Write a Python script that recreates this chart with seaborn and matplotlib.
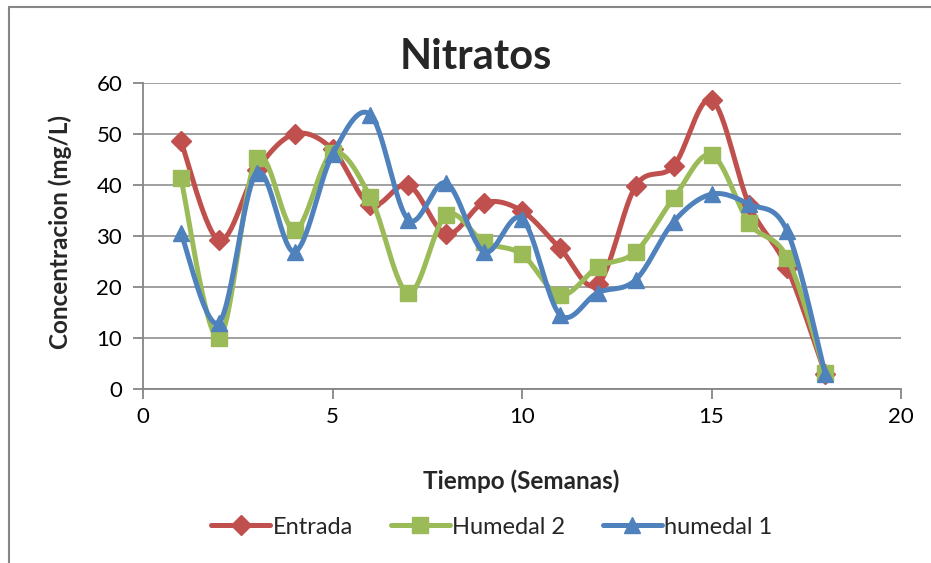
import numpy as np
import pandas as pd
import matplotlib
matplotlib.use("Agg")
import matplotlib.pyplot as plt
from matplotlib.lines import Line2D
import seaborn as sns

# ---- data ----
semanas = list(range(1, 19))
entrada = [48.6, 29.2, 42.9, 50.0, 47.0, 36.1, 40.0, 30.4, 36.5, 34.9,
           27.6, 20.5, 39.8, 43.7, 56.7, 36.0, 23.7, 3.0]
humedal2 = [41.3, 10.0, 45.2, 31.2, 46.3, 37.6, 18.8, 34.1, 28.8, 26.4,
            18.4, 23.9, 26.9, 37.4, 45.9, 32.5, 25.7, 3.1]
humedal1 = [30.6, 13.0, 42.4, 26.9, 46.0, 53.8, 33.2, 40.4, 26.9, 33.4,
            14.6, 18.9, 21.4, 32.8, 38.2, 36.2, 30.9, 3.0]
series_names = ["Entrada", "Humedal 2", "humedal 1"]
colors = ["#C0504D", "#9BBB59", "#4F81BD"]
markers = ["D", "s", "^"]
marker_sizes = [10, 11, 12]

sns.set_theme(style="white")
plt.rcParams["font.family"] = ["Lato", "DejaVu Sans"]

W, H = 931, 563
fig = plt.figure(figsize=(W / 100, H / 100), dpi=100)
ax = fig.add_axes([143 / W, 1 - 389 / H, (901 - 143) / W, (389 - 83) / H])


def smooth(xs, ys, n=30):
    """Excel-style smoothed line (cubic Bezier, Catmull-Rom control points)."""
    P = np.column_stack([xs, ys]).astype(float)
    out = []
    m = len(P)
    for i in range(m - 1):
        p0 = P[i - 1] if i > 0 else P[i]
        p1 = P[i]
        p2 = P[i + 1]
        p3 = P[i + 2] if i + 2 < m else P[i + 1]
        c1 = p1 + (p2 - p0) / 6
        c2 = p2 - (p3 - p1) / 6
        t = np.linspace(0, 1, n, endpoint=(i == m - 2))[:, None]
        b = ((1 - t) ** 3) * p1 + 3 * ((1 - t) ** 2) * t * c1 + 3 * (1 - t) * t ** 2 * c2 + t ** 3 * p2
        out.append(b)
    return np.vstack(out)


data = [entrada, humedal2, humedal1]
handles = []
for k, (name, vals) in enumerate(zip(series_names, data)):
    curve = smooth(semanas, vals)
    cdf = pd.DataFrame({"x": curve[:, 0], "y": curve[:, 1]})
    sns.lineplot(data=cdf, x="x", y="y", ax=ax, color=colors[k], lw=3.6,
                 sort=False, estimator=None, zorder=3 + 2 * k)
    pdf = pd.DataFrame({"x": semanas, "y": vals})
    ax.plot(pdf["x"], pdf["y"], ls="none", marker=markers[k], ms=marker_sizes[k],
            color=colors[k], mec=colors[k], zorder=4 + 2 * k, clip_on=False)
    handles.append(Line2D([], [], color=colors[k], lw=3.6, marker=markers[k],
                          ms=marker_sizes[k], mec=colors[k]))

ax.set_xlim(0, 20)
ax.set_ylim(0, 60)
ax.set_xticks([0, 5, 10, 15, 20])
ax.set_yticks(range(0, 61, 10))
ax.grid(axis="y", color="#868686", lw=1.1)
ax.set_axisbelow(True)
for s in ["top", "right"]:
    ax.spines[s].set_visible(False)
for s in ["left", "bottom"]:
    ax.spines[s].set_color("#868686")
    ax.spines[s].set_linewidth(1.3)
ax.tick_params(axis="both", direction="out", length=7, width=1.3, color="#868686",
               labelsize=16, labelcolor="black", bottom=True, left=True)
ax.tick_params(axis="x", pad=6)
ax.tick_params(axis="y", pad=8)
ax.set_xlabel("")
ax.set_ylabel("")

fig.text(476 / W, 1 - 57 / H, "Nitratos", ha="center", va="center",
         fontsize=30, fontweight="bold")
fig.text(521 / W, 1 - 481 / H, "Tiempo (Semanas)", ha="center", va="center",
         fontsize=17.5, fontweight="bold")
fig.text(60 / W, 1 - 232 / H, "Concentracion (mg/L)", ha="center", va="center",
         rotation=90, fontsize=17.5, fontweight="bold")

fig.legend(handles, series_names, loc="center", bbox_to_anchor=(492 / W, 1 - 527 / H),
           ncol=3, frameon=False, fontsize=17, handlelength=2.5, handletextpad=0.1,
           columnspacing=1.6)

# outer chart frame
fig.add_artist(Line2D([9 / W, 9 / W], [0, 1 - 7 / H], color="#868686", lw=1.5,
                      transform=fig.transFigure))
fig.add_artist(Line2D([9 / W, 1], [1 - 7 / H, 1 - 7 / H], color="#868686", lw=1.5,
                      transform=fig.transFigure))

fig.savefig("out.png", dpi=100, facecolor="white")
